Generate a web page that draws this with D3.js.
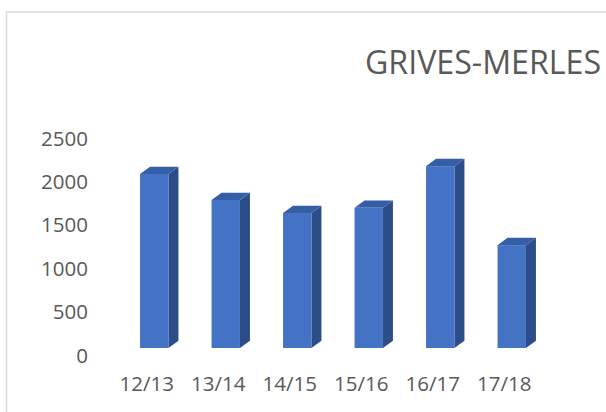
<!DOCTYPE html>
<html>
<head>
<meta charset="utf-8">
<script src="https://cdn.jsdelivr.net/npm/d3@7"></script>
<style>
  body { margin: 0; background: #fff; }
  text { font-family: "Open Sans", sans-serif; fill: #595959; }
</style>
</head>
<body>
<div id="chart"></div>
<script>
// data
var seasons = ["12/13", "13/14", "14/15", "15/16", "16/17", "17/18"];
var counts = [2005, 1705, 1555, 1615, 2095, 1185];
var yTicks = [0, 500, 1000, 1500, 2000, 2500];
var title = "GRIVES-MERLES";

var width = 606, height = 412;
var depthX = 10, depthY = 7.3;   // 3d offset of the columns
var barW = 28.4;

var svg = d3.select("#chart")
    .append("svg")
    .attr("width", width)
    .attr("height", height);

// chart border
svg.append("rect")
    .attr("x", 6.5)
    .attr("y", 12)
    .attr("width", 700)
    .attr("height", 500)
    .style("fill", "none")
    .style("stroke", "#d9d9d9")
    .style("stroke-width", 1.5);

// title
svg.append("text")
    .attr("x", 365)
    .attr("y", 74)
    .attr("textLength", 236)
    .attr("lengthAdjust", "spacingAndGlyphs")
    .style("font-size", "33px")
    .text(title);

var x = d3.scaleBand()
    .domain(seasons)
    .range([118.5, 547.5]);

var y = d3.scaleLinear()
    .domain([0, 2500])
    .range([348, 131]);

// value axis labels (sit a bit lower, on the floor's front edge)
svg.append("g")
    .selectAll("text")
    .data(yTicks)
    .enter()
    .append("text")
    .attr("x", 88)
    .attr("y", d => y(d) + depthY)
    .attr("dy", "0.36em")
    .attr("text-anchor", "end")
    .style("font-size", "20.5px")
    .text(d => d);

// category labels
svg.append("g")
    .selectAll("text")
    .data(seasons)
    .enter()
    .append("text")
    .attr("x", d => x(d) + x.bandwidth() / 2 - 7.5)
    .attr("y", 391)
    .attr("text-anchor", "middle")
    .style("font-size", "20.5px")
    .text(d => d);

// columns
var bars = svg.selectAll("g.bar")
    .data(seasons.map((s, i) => ({ season: s, value: counts[i] })))
    .enter()
    .append("g")
    .attr("class", "bar");

function left(d) { return x(d.season) + x.bandwidth() / 2 - barW / 2; }

// side face
bars.append("path")
    .attr("d", d => {
        var x1 = left(d) + barW, t = y(d.value), b = y(0);
        return "M" + x1 + "," + b + "L" + (x1 + depthX) + "," + (b - depthY) +
            "L" + (x1 + depthX) + "," + (t - depthY) + "L" + x1 + "," + t + "Z";
    })
    .style("fill", "#2c4d87");

// top face
bars.append("path")
    .attr("d", d => {
        var x0 = left(d), t = y(d.value);
        return "M" + x0 + "," + t + "L" + (x0 + depthX) + "," + (t - depthY) +
            "L" + (x0 + barW + depthX) + "," + (t - depthY) + "L" + (x0 + barW) + "," + t + "Z";
    })
    .style("fill", "#345ea6");

// front face
bars.append("rect")
    .attr("x", d => left(d))
    .attr("y", d => y(d.value))
    .attr("width", barW)
    .attr("height", d => y(0) - y(d.value))
    .style("fill", "#4472c4");
</script>
</body>
</html>
